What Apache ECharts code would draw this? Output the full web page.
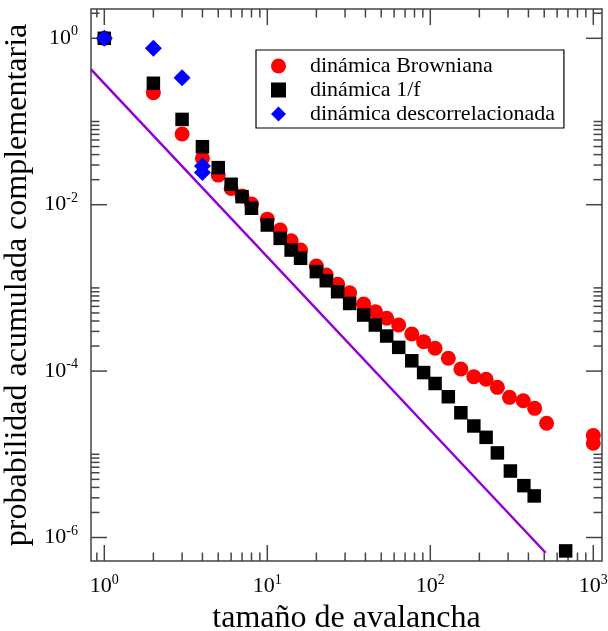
<!DOCTYPE html>
<html><head><meta charset="utf-8">
<script src="https://cdn.jsdelivr.net/npm/echarts@6/dist/echarts.min.js"></script>
<style>html,body{margin:0;padding:0;background:#fff}#c{width:608px;height:631px}</style>
</head><body><div id="c"></div>
<script>
// ---- data ----
const seriesNames = ['dinámica Browniana', 'dinámica 1/f', 'dinámica descorrelacionada'];

const brownX = [1,2,3,4,5,6,7,8,10,12,14,16,20,23,27,32,39,46,54,64,77,91,107,129,154,185,220,258,306,372,437,517,1000,1000];
const brownY = [1.0,0.222,0.0708,0.0361,0.0227,0.0157,0.0127,0.0102,0.0067,0.00496,0.00369,0.00285,0.00183,0.00143,0.00111,0.000875,0.00064,0.000518,0.000431,0.000358,0.000279,0.000226,0.000188,0.000143,0.000106,8.57e-5,7.97e-5,6.38e-5,4.84e-5,4.41e-5,3.57e-5,2.36e-5,1.68e-5,1.36e-5];

const oneFX = [1,2,3,4,5,6,7,8,10,12,14,16,20,23,27,32,39,46,54,64,77,91,107,129,154,185,220,258,310,375,434,677];
const oneFY = [1.0,0.288,0.106,0.0498,0.0279,0.0176,0.0125,0.00906,0.0057,0.00394,0.00285,0.00227,0.00157,0.00122,0.0009,0.00065,0.000472,0.000358,0.000264,0.000193,0.000133,9.6e-5,7.1e-5,4.92e-5,3.16e-5,2.19e-5,1.6e-5,1.04e-5,6.3e-6,4.2e-6,3.16e-6,6.9e-7];

const uncorrX = [1,2,3,4,4];
const uncorrY = [1.0,0.758,0.336,0.0292,0.0243];

const fitX = [0.8286, 510];
const fitY = [0.424, 6.56e-7];

// axis ranges and ticks
const X_MIN = 0.8286, X_MAX = 1131;
const Y_MIN = 5.22e-7, Y_MAX = 2.25;
const xMajorTicks = [1, 10, 100, 1000];
const xMinorTicks = [0.9, 2,3,4,5,6,7,8,9, 20,30,40,50,60,70,80,90, 200,300,400,500,600,700,800,900];
const yMajorTicks = [1, 1e-2, 1e-4, 1e-6];
const yMinorTicks = [2,
  0.02,0.03,0.04,0.05,0.06,0.07,0.08,0.09,0.1,
  2e-4,3e-4,4e-4,5e-4,6e-4,7e-4,8e-4,9e-4,1e-3,
  2e-6,3e-6,4e-6,5e-6,6e-6,7e-6,8e-6,9e-6,1e-5];
const xTitle = 'tamaño de avalancha';
const yTitle = 'probabilidad acumulada complementaria';

// ---- build ----
const FONT = 'Liberation Serif';
const FRAME = '#444';
const zip = (a, b) => a.map((v, i) => [v, b[i]]);

const tickItems = [];
xMajorTicks.forEach(v => tickItems.push({axis: 'x', v, major: true}));
xMinorTicks.forEach(v => tickItems.push({axis: 'x', v, major: false}));
yMajorTicks.forEach(v => tickItems.push({axis: 'y', v, major: true}));
yMinorTicks.forEach(v => tickItems.push({axis: 'y', v, major: false}));

function renderTick(params, api) {
  const t = tickItems[params.dataIndex];
  const len = t.major ? 16 : 8.5;
  const style = {stroke: FRAME, lineWidth: 1.5};
  if (t.axis === 'x') {
    const pb = api.coord([t.v, Y_MIN]);
    const pt = api.coord([t.v, Y_MAX]);
    return {type: 'group', children: [
      {type: 'line', shape: {x1: pb[0], y1: pb[1], x2: pb[0], y2: pb[1] - len}, style},
      {type: 'line', shape: {x1: pt[0], y1: pt[1], x2: pt[0], y2: pt[1] + len}, style}
    ]};
  }
  const pl = api.coord([X_MIN, t.v]);
  const pr = api.coord([X_MAX, t.v]);
  return {type: 'group', children: [
    {type: 'line', shape: {x1: pl[0], y1: pl[1], x2: pl[0] + len, y2: pl[1]}, style},
    {type: 'line', shape: {x1: pr[0], y1: pr[1], x2: pr[0] - len, y2: pr[1]}, style}
  ]};
}

function fmtLog(v, evenOnly) {
  const e = Math.log10(v), r = Math.round(e);
  if (Math.abs(e - r) > 1e-6) return '';
  if (evenOnly && r % 2 !== 0) return '';
  return '{b|10}{s|' + r + '}';
}
const richLab = {
  b: {fontFamily: FONT, fontSize: 22, color: '#000', lineHeight: 22},
  s: {fontFamily: FONT, fontSize: 14, color: '#000', padding: [0, 0, 13, 0]}
};

const chart = echarts.init(document.getElementById('c'), null, {renderer: 'canvas'});
chart.setOption({
  animation: false,
  backgroundColor: '#fff',
  grid: {left: 91, right: 6, top: 9, bottom: 70, show: true, borderColor: FRAME, borderWidth: 1.5,
         containLabel: false, outerBoundsMode: 'none'},
  xAxis: {
    type: 'log', min: X_MIN, max: X_MAX,
    axisLine: {show: false}, axisTick: {show: false}, splitLine: {show: false}, minorTick: {show: false},
    axisLabel: {margin: 12, formatter: v => fmtLog(v, false), rich: richLab},
    name: xTitle, nameLocation: 'middle', nameGap: 38,
    nameTextStyle: {fontFamily: FONT, fontSize: 32, color: '#000', lineHeight: 32}
  },
  yAxis: {
    type: 'log', min: Y_MIN, max: Y_MAX,
    axisLine: {show: false}, axisTick: {show: false}, splitLine: {show: false}, minorTick: {show: false},
    axisLabel: {margin: 13, formatter: v => fmtLog(v, true), rich: richLab},
    name: yTitle, nameLocation: 'middle', nameGap: 57, nameRotate: 90,
    nameTextStyle: {fontFamily: FONT, fontSize: 32, color: '#000', lineHeight: 32}
  },
  legend: {
    data: seriesNames, orient: 'vertical', left: 256, top: 50,
    padding: [5, 9, 3, 15], itemWidth: 15, itemHeight: 15, itemGap: 2,
    borderColor: '#000', borderWidth: 1.2, backgroundColor: '#fff',
    selectedMode: false,
    textStyle: {fontFamily: FONT, fontSize: 22, color: '#000', lineHeight: 22, padding: [0, 0, 0, 19]}
  },
  series: [
    {type: 'custom', name: 'ticks', renderItem: renderTick, silent: true, z: 1,
     data: tickItems.map(t => t.axis === 'x' ? [t.v, Y_MIN] : [X_MIN, t.v])},
    {type: 'line', name: 'ajuste', data: zip(fitX, fitY), showSymbol: false, symbol: 'none',
     lineStyle: {color: '#9400d3', width: 2.5}, z: 2, silent: true},
    {type: 'scatter', name: seriesNames[0], data: zip(brownX, brownY), symbol: 'circle', symbolSize: 15,
     itemStyle: {color: '#ff0000', opacity: 1}, z: 3},
    {type: 'scatter', name: seriesNames[1], data: zip(oneFX, oneFY), symbol: 'rect', symbolSize: 13.5,
     itemStyle: {color: '#000000', opacity: 1}, z: 4},
    {type: 'scatter', name: seriesNames[2], data: zip(uncorrX, uncorrY), symbol: 'diamond', symbolSize: 17,
     itemStyle: {color: '#0000ff', opacity: 1}, z: 5}
  ]
});
</script></body></html>
